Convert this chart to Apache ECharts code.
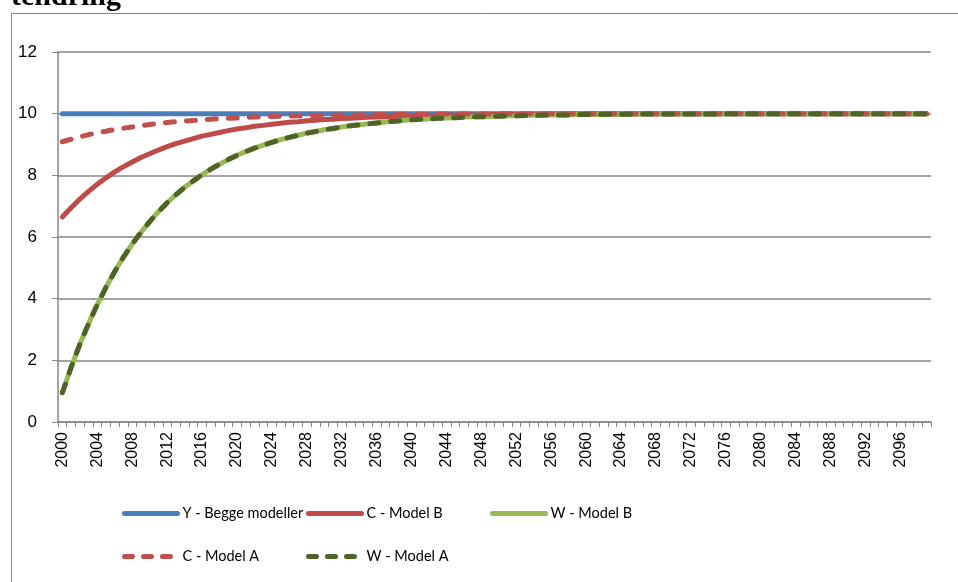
<!DOCTYPE html>
<html>
<head>
<meta charset="utf-8">
<script src="https://cdn.jsdelivr.net/npm/echarts@6/dist/echarts.min.js"></script>
<style>
  html, body { margin: 0; padding: 0; background: #fff; }
  #chart { width: 958px; height: 582px; }
</style>
</head>
<body>
<div id="chart"></div>
<script>
// Years 2000–2099
const years = [];
for (let y = 2000; y <= 2099; y++) years.push(String(y));

const yTicks = [0, 2, 4, 6, 8, 10, 12];

// Y – both models
const yBoth = [
  10,10,10,10,10,10,10,10,10,10, 10,10,10,10,10,10,10,10,10,10,
  10,10,10,10,10,10,10,10,10,10, 10,10,10,10,10,10,10,10,10,10,
  10,10,10,10,10,10,10,10,10,10, 10,10,10,10,10,10,10,10,10,10,
  10,10,10,10,10,10,10,10,10,10, 10,10,10,10,10,10,10,10,10,10,
  10,10,10,10,10,10,10,10,10,10, 10,10,10,10,10,10,10,10,10,10
];

// C – Model B
const cModelB = [
  6.65,6.95,7.23,7.48,7.71,7.92,8.11,8.28,8.43,8.58,
  8.70,8.82,8.93,9.03,9.11,9.19,9.27,9.33,9.39,9.45,
  9.50,9.54,9.59,9.62,9.66,9.69,9.72,9.74,9.77,9.79,
  9.81,9.82,9.84,9.85,9.87,9.88,9.89,9.90,9.91,9.92,
  9.92,9.93,9.94,9.94,9.95,9.95,9.96,9.96,9.96,9.97,
  9.97,9.97,9.98,9.98,9.98,9.98,9.98,9.99,9.99,9.99,
  9.99,9.99,9.99,9.99,9.99,10,10,10,10,10,
  10,10,10,10,10,10,10,10,10,10, 10,10,10,10,10,10,10,10,10,10,
  10,10,10,10,10,10,10,10,10,10
];

// W – Model B
const wModelB = [
  0.95,1.77,2.52,3.19,3.81,4.37,4.88,5.35,5.77,6.15,
  6.50,6.82,7.11,7.37,7.61,7.82,8.02,8.20,8.36,8.51,
  8.65,8.77,8.88,8.98,9.07,9.16,9.23,9.30,9.37,9.42,
  9.48,9.52,9.57,9.61,9.64,9.67,9.70,9.73,9.75,9.78,
  9.80,9.82,9.83,9.85,9.86,9.87,9.89,9.90,9.90,9.91,
  9.92,9.93,9.93,9.94,9.95,9.95,9.96,9.96,9.96,9.97,
  9.97,9.97,9.98,9.98,9.98,9.98,9.99,9.99,9.99,9.99,
  9.99,9.99,9.99,9.99,9.99,9.99,10,10,10,10,
  10,10,10,10,10,10,10,10,10,10, 10,10,10,10,10,10,10,10,10,10
];

// C – Model A
const cModelA = [
  9.09,9.17,9.25,9.32,9.38,9.43,9.49,9.53,9.57,9.61,
  9.65,9.68,9.71,9.74,9.76,9.78,9.80,9.82,9.84,9.85,
  9.86,9.88,9.89,9.90,9.91,9.92,9.92,9.93,9.94,9.94,
  9.95,9.95,9.96,9.96,9.96,9.97,9.97,9.97,9.98,9.98,
  9.98,9.98,9.98,9.99,9.99,9.99,9.99,9.99,9.99,9.99,
  10,10,10,10,10,10,10,10,10,10, 10,10,10,10,10,10,10,10,10,10,
  10,10,10,10,10,10,10,10,10,10, 10,10,10,10,10,10,10,10,10,10,
  10,10,10,10,10,10,10,10,10,10
];

// W – Model A (same path as W – Model B)
const wModelA = wModelB.slice();

const names = ['Y - Begge modeller', 'C - Model B', 'W - Model B', 'C - Model A', 'W - Model A'];

const gray = '#868686';
const lineW = 5;
const dash = [9, 12];

function lineSeries(name, data, color, dashed) {
  return {
    name: name,
    type: 'line',
    data: data,
    symbol: 'none',
    smooth: false,
    lineStyle: {
      color: color,
      width: lineW,
      type: dashed ? dash : 'solid',
      cap: 'round',
      join: 'round'
    },
    itemStyle: { color: color }
  };
}

function legendAt(name, left, top, dashed) {
  return {
    data: [name],
    left: left,
    top: top,
    itemWidth: 53,
    itemHeight: 14,
    itemGap: 0,
    padding: 0,
    itemStyle: { opacity: 0 },
    lineStyle: {
      width: lineW,
      cap: 'round',
      type: dashed ? [8, 11] : 'solid'
    },
    textStyle: { fontFamily: 'Lato', fontSize: 14.5, color: '#000' }
  };
}

const chart = echarts.init(document.getElementById('chart'), null, { renderer: 'canvas' });

chart.setOption({
  animation: false,
  backgroundColor: '#fff',
  graphic: [
    {
      type: 'rect',
      shape: { x: 11.5, y: 13.5, width: 960, height: 600 },
      style: { fill: 'none', stroke: gray, lineWidth: 1 },
      silent: true
    },
    {
      type: 'text',
      left: 11,
      top: -18,
      style: {
        text: 'tendring',
        font: 'bold 30px "Liberation Serif", "DejaVu Serif", serif',
        fill: '#000'
      },
      silent: true
    }
  ],
  grid: { left: 58, right: 27, top: 52, bottom: 160, containLabel: false },
  xAxis: {
    type: 'category',
    data: years,
    boundaryGap: true,
    axisLine: { lineStyle: { color: gray, width: 1.5 } },
    axisTick: { show: true, interval: 0, length: 5, lineStyle: { color: gray } },
    axisLabel: {
      interval: 3,
      rotate: 90,
      margin: 10,
      color: '#000',
      fontFamily: '"Liberation Sans", Arial, sans-serif',
      fontSize: 16
    },
    splitLine: { show: false }
  },
  yAxis: {
    type: 'value',
    min: yTicks[0],
    max: yTicks[yTicks.length - 1],
    interval: 2,
    axisLine: { show: true, lineStyle: { color: gray, width: 1.5 } },
    axisTick: { show: true, length: 6, lineStyle: { color: gray } },
    axisLabel: {
      margin: 21,
      color: '#000',
      fontFamily: '"Liberation Sans", Arial, sans-serif',
      fontSize: 17
    },
    splitLine: { show: true, lineStyle: { color: gray, width: 1.5 } }
  },
  legend: [
    legendAt(names[0], 122, 506, false),
    legendAt(names[1], 306, 506, false),
    legendAt(names[2], 490, 506, false),
    legendAt(names[3], 122, 549, true),
    legendAt(names[4], 306, 549, true)
  ],
  series: [
    lineSeries(names[0], yBoth, '#4a7ebb', false),
    lineSeries(names[1], cModelB, '#be4b48', false),
    lineSeries(names[2], wModelB, '#98b954', false),
    lineSeries(names[3], cModelA, '#c0504d', true),
    lineSeries(names[4], wModelA, '#4f6228', true)
  ]
});
</script>
</body>
</html>
